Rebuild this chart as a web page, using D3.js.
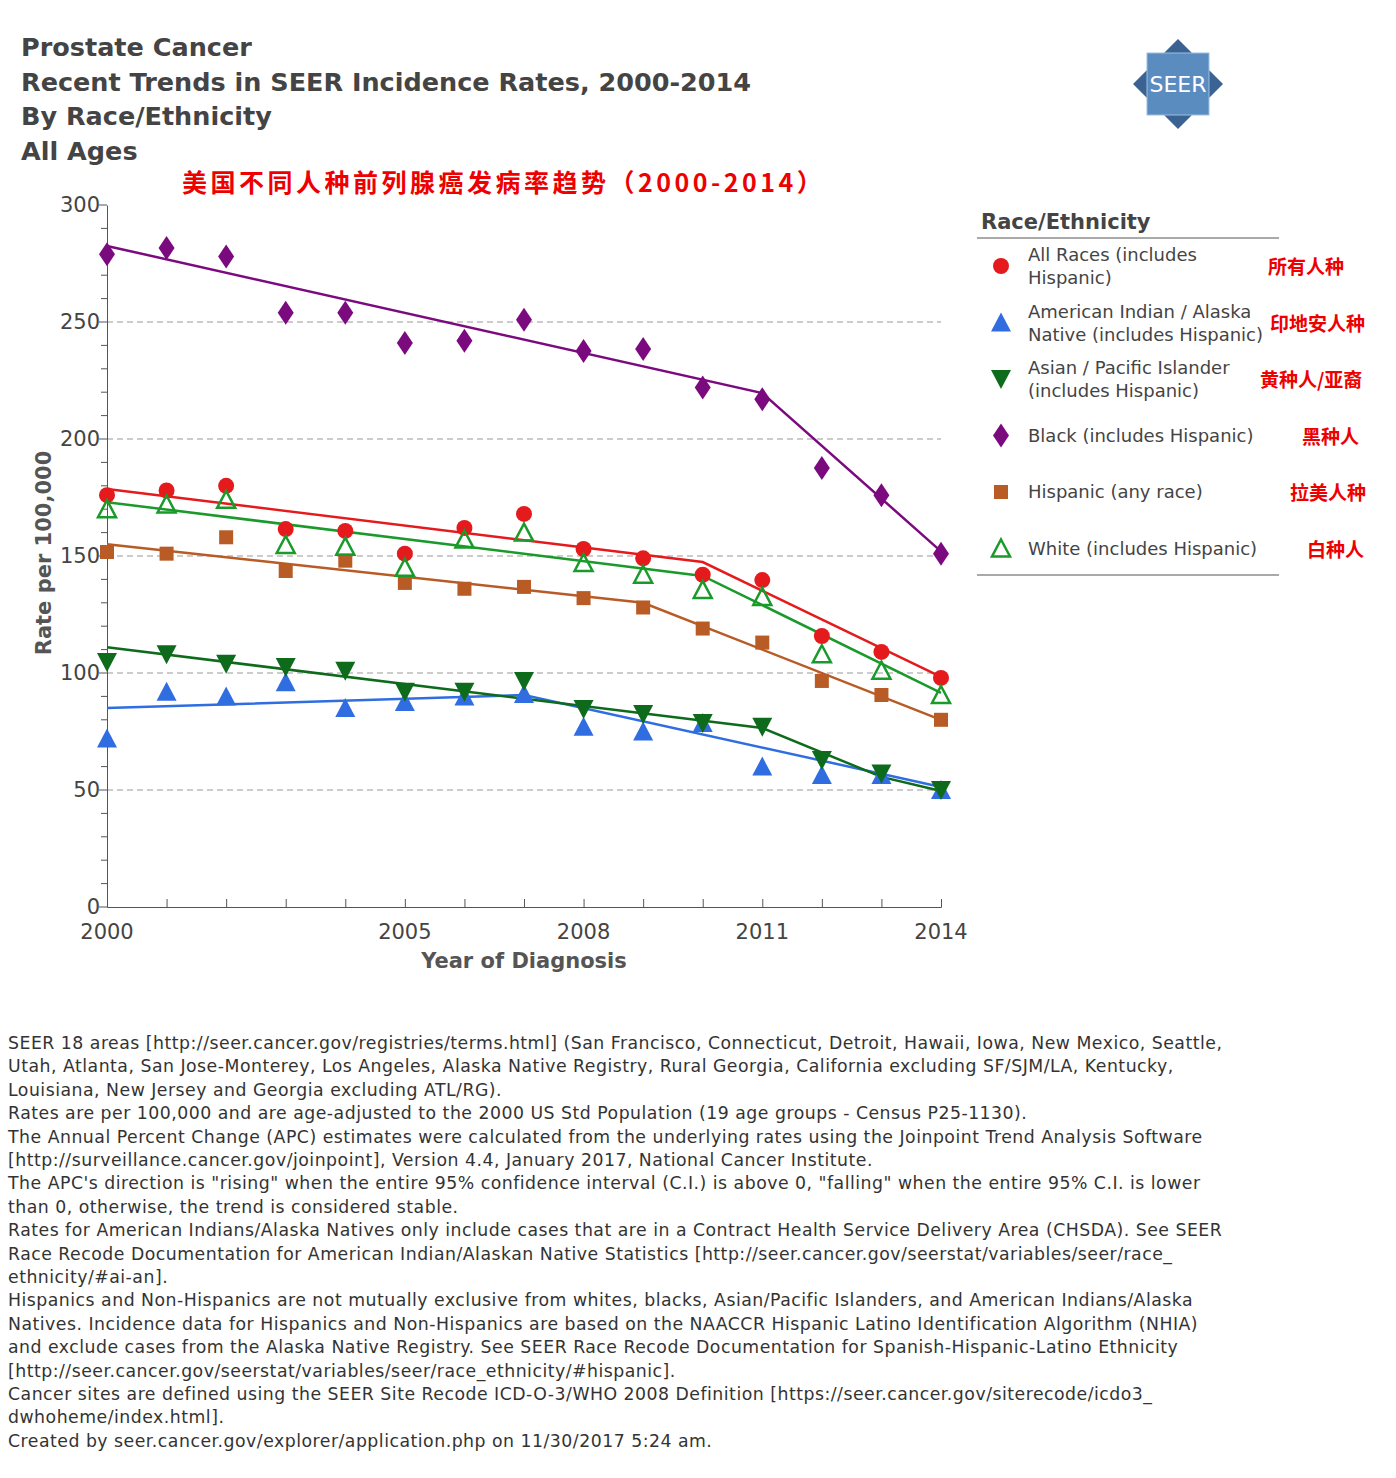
<!DOCTYPE html>
<html><head><meta charset="utf-8">
<script src="https://cdn.jsdelivr.net/npm/d3@7"></script>
<style>body{margin:0;background:#fff;font-family:"DejaVu Sans",sans-serif}</style>
</head><body>
<svg id="c" width="1396" height="1478"></svg>
<script>
const years=[2000,2001,2002,2003,2004,2005,2006,2007,2008,2009,2010,2011,2012,2013,2014];
const allRaces=[176,178,180,161.5,160.7,151,162,168,153,149,142,139.7,115.8,109,97.9];
const aian=[72,92,90,96,85,87.6,90,91,77,75,78.6,60,56.4,56.4,50];
const asian=[104.7,108,104,102.6,101,92,92,96.6,84.6,82.5,78.6,77,62.8,57,50];
const black=[279,281.6,278,254,254,241,242,251,237.6,238.5,222,217,187.6,176,151];
const hispanic=[151.7,151,158,143.6,148,138.5,136,136.8,132,128,119,113,96.6,90.6,80];
const white=[170,172,174,154.7,154,145,157,160,147,142,135.5,132.5,108,101,90.6];
const trendAll=[[2000,178.6],[2010,147.4],[2014,98.3]];
const trendAian=[[2000,85],[2007,90.6],[2014,51.3]];
const trendAsian=[[2000,111],[2011,76.5],[2013,55.6],[2014,49.6]];
const trendBlack=[[2000,282.5],[2011,219.6],[2014,152]];
const trendHisp=[[2000,155],[2009,130],[2014,80]];
const trendWhite=[[2000,173],[2010,141.5],[2014,91.5]];
const yTicks=[0,50,100,150,200,250,300];
const xLabels=[2000,2005,2008,2011,2014];
const series=[
 {name:["All Races (includes","Hispanic)"],cn:"所有人种",vals:allRaces,trend:trendAll,color:"#e41a1c",sym:"circle"},
 {name:["American Indian / Alaska","Native (includes Hispanic)"],cn:"印地安人种",vals:aian,trend:trendAian,color:"#2f6de1",sym:"tri"},
 {name:["Asian / Pacific Islander","(includes Hispanic)"],cn:"黄种人/亚裔",vals:asian,trend:trendAsian,color:"#0e6b1b",sym:"down"},
 {name:["Black (includes Hispanic)"],cn:"黑种人",vals:black,trend:trendBlack,color:"#7b0a7f",sym:"diamond"},
 {name:["Hispanic (any race)"],cn:"拉美人种",vals:hispanic,trend:trendHisp,color:"#b85b25",sym:"square"},
 {name:["White (includes Hispanic)"],cn:"白种人",vals:white,trend:trendWhite,color:"#1a9a2a",sym:"open"}
];
const svg=d3.select("#c");
const x=d3.scaleLinear().domain([2000,2014]).range([107,941]);
const y=d3.scaleLinear().domain([0,300]).range([907,205]);
const title=["Prostate Cancer","Recent Trends in SEER Incidence Rates, 2000-2014","By Race/Ethnicity","All Ages"];
title.forEach((t,i)=>svg.append("text").attr("x",21).attr("y",56+i*34.5).attr("font-size",25.5).attr("font-weight","bold").attr("fill","#444").text(t));
svg.append("text").attr("x",182).attr("y",192).attr("font-size",25).attr("letter-spacing",3.5).attr("font-weight","bold").attr("fill","#e00").attr("font-family","Noto Sans CJK SC").text("美国不同人种前列腺癌发病率趋势（2000-2014）");
const lg=svg.append("g").attr("transform","translate(1178,84)");
lg.append("path").attr("d","M0,-45L45,0L0,45L-45,0Z").attr("fill","#3a6394");
lg.append("rect").attr("x",-31).attr("y",-31).attr("width",62).attr("height",62).attr("fill","#5a8cc0").attr("stroke","#9cc0e0");
lg.append("text").attr("text-anchor","middle").attr("y",8).attr("font-size",22).attr("fill","#fff").text("SEER");
[50,100,150,200,250].forEach(v=>svg.append("line").attr("x1",107).attr("x2",941).attr("y1",y(v)).attr("y2",y(v)).attr("stroke","#999").attr("stroke-dasharray","6,4"));
const ya=svg.append("g").attr("transform","translate(107,0)").call(d3.axisLeft(y).tickValues(d3.range(0,301,10)).tickSize(0).tickFormat(""));
ya.select(".domain").attr("stroke","#555");
svg.selectAll(".yt").data(d3.range(0,301,10)).join("line").attr("x1",d=>d%50?101:99).attr("x2",107).attr("y1",d=>y(d)).attr("y2",d=>y(d)).attr("stroke","#555");
yTicks.forEach(v=>svg.append("text").attr("x",100).attr("y",y(v)+7).attr("text-anchor","end").attr("font-size",21).attr("fill","#444").text(v));
const xa=svg.append("g").attr("transform","translate(0,907)").call(d3.axisBottom(x).tickValues(years).tickSize(-8).tickFormat(""));
xa.select(".domain").attr("stroke","#555");xa.selectAll("line").attr("stroke","#555");
xLabels.forEach(v=>svg.append("text").attr("x",x(v)).attr("y",939).attr("text-anchor","middle").attr("font-size",21).attr("fill","#444").text(v));
svg.append("text").attr("x",524).attr("y",968).attr("text-anchor","middle").attr("font-size",21).attr("font-weight","bold").attr("fill","#555").text("Year of Diagnosis");
svg.append("text").attr("transform","translate(51,553) rotate(-90)").attr("text-anchor","middle").attr("font-size",21).attr("font-weight","bold").attr("fill","#555").text("Rate per 100,000");
function sym(g,s,c,cx,cy){
 if(s=="circle")g.append("circle").attr("cx",cx).attr("cy",cy).attr("r",8).attr("fill",c);
 else if(s=="tri")g.append("path").attr("d",`M${cx},${cy-10}L${cx+10},${cy+9}L${cx-10},${cy+9}Z`).attr("fill",c);
 else if(s=="down")g.append("path").attr("d",`M${cx-10},${cy-9}L${cx+10},${cy-9}L${cx},${cy+10}Z`).attr("fill",c);
 else if(s=="diamond")g.append("path").attr("d",`M${cx},${cy-12}L${cx+8},${cy}L${cx},${cy+12}L${cx-8},${cy}Z`).attr("fill",c);
 else if(s=="square")g.append("rect").attr("x",cx-7).attr("y",cy-7).attr("width",14).attr("height",14).attr("fill",c);
 else g.append("path").attr("d",`M${cx},${cy-9}L${cx+9},${cy+8}L${cx-9},${cy+8}Z`).attr("fill","none").attr("stroke",c).attr("stroke-width",2.5);
}
const line=d3.line().x(d=>x(d[0])).y(d=>y(d[1]));
series.forEach(s=>svg.append("path").attr("d",line(s.trend)).attr("fill","none").attr("stroke",s.color).attr("stroke-width",2.5));
series.forEach(s=>{const g=svg.append("g");s.vals.forEach((v,i)=>sym(g,s.sym,s.color,x(years[i]),y(v)));});
svg.append("text").attr("x",981).attr("y",229).attr("font-size",21).attr("font-weight","bold").attr("fill","#444").text("Race/Ethnicity");
svg.append("line").attr("x1",977).attr("x2",1279).attr("y1",238).attr("y2",238).attr("stroke","#555");
svg.append("line").attr("x1",977).attr("x2",1279).attr("y1",575).attr("y2",575).attr("stroke","#555");
series.forEach((s,i)=>{const cy=266+i*56.5;const g=svg.append("g");sym(g,s.sym,s.color,1001,cy);
 s.name.forEach((n,j)=>g.append("text").attr("x",1028).attr("y",cy+(s.name.length==1?6:-5+j*23)).attr("font-size",18).attr("fill","#444").text(n));
 g.append("text").attr("x",[1268,1270,1260,1302,1290,1307][i]).attr("y",cy+8).attr("font-size",19).attr("font-weight","bold").attr("fill","#e00").attr("font-family","Noto Sans CJK SC").text(s.cn);});
const notes=["SEER 18 areas [http://seer.cancer.gov/registries/terms.html] (San Francisco, Connecticut, Detroit, Hawaii, Iowa, New Mexico, Seattle,","Utah, Atlanta, San Jose-Monterey, Los Angeles, Alaska Native Registry, Rural Georgia, California excluding SF/SJM/LA, Kentucky,","Louisiana, New Jersey and Georgia excluding ATL/RG).","Rates are per 100,000 and are age-adjusted to the 2000 US Std Population (19 age groups - Census P25-1130).","The Annual Percent Change (APC) estimates were calculated from the underlying rates using the Joinpoint Trend Analysis Software","[http://surveillance.cancer.gov/joinpoint], Version 4.4, January 2017, National Cancer Institute.","The APC's direction is \"rising\" when the entire 95% confidence interval (C.I.) is above 0, \"falling\" when the entire 95% C.I. is lower","than 0, otherwise, the trend is considered stable.","Rates for American Indians/Alaska Natives only include cases that are in a Contract Health Service Delivery Area (CHSDA). See  SEER","Race Recode Documentation for American Indian/Alaskan Native Statistics [http://seer.cancer.gov/seerstat/variables/seer/race_","ethnicity/#ai-an].","Hispanics and Non-Hispanics are not mutually exclusive from whites, blacks, Asian/Pacific Islanders, and American Indians/Alaska","Natives. Incidence data for Hispanics and Non-Hispanics are based on the NAACCR Hispanic Latino Identification Algorithm (NHIA)","and exclude cases from the Alaska Native Registry. See SEER Race Recode Documentation for Spanish-Hispanic-Latino Ethnicity","[http://seer.cancer.gov/seerstat/variables/seer/race_ethnicity/#hispanic].","Cancer sites are defined using the SEER Site Recode ICD-O-3/WHO 2008 Definition [https://seer.cancer.gov/siterecode/icdo3_","dwhoheme/index.html].","Created by seer.cancer.gov/explorer/application.php on 11/30/2017 5:24 am."];
notes.forEach((t,i)=>svg.append("text").attr("x",8).attr("y",1049+i*23.4).attr("font-size",17.3).attr("letter-spacing",0.5).attr("fill","#333").text(t));
</script></body></html>
